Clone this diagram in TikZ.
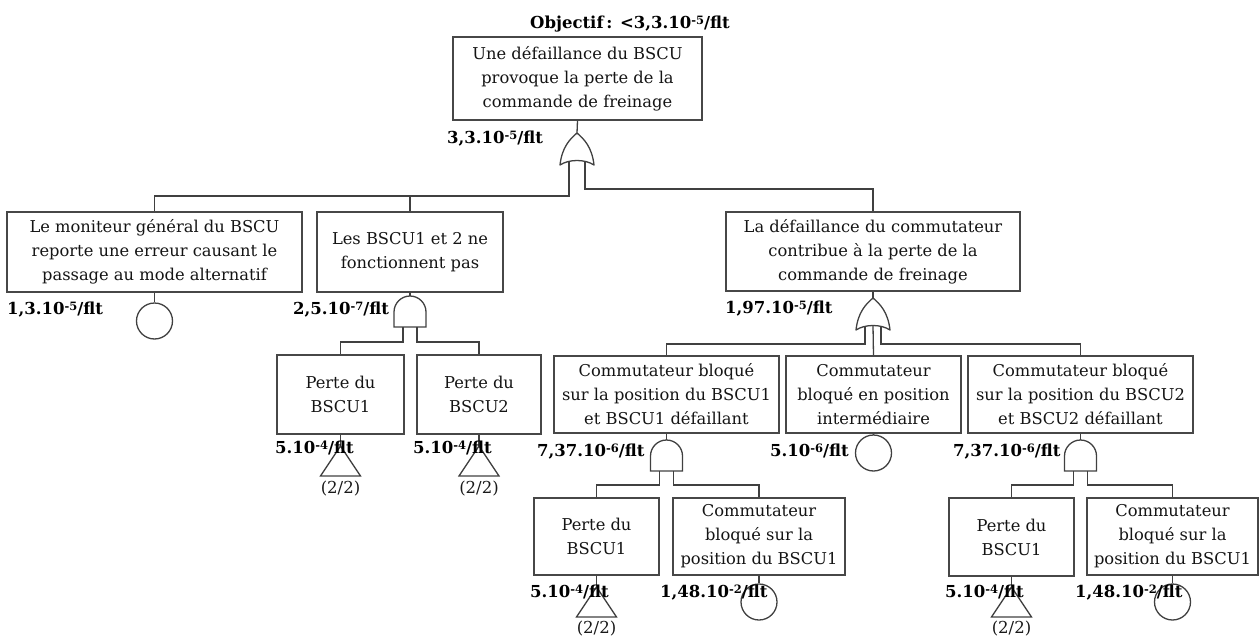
\documentclass[tikz,border=0pt]{standalone}
\usepackage{fontspec}
\setmainfont{DejaVu Serif}
\newcommand\myexp[1]{\raisebox{4pt}{\fontsize{11.5}{12}\selectfont #1}}
\begin{document}
\begin{tikzpicture}[x=1pt,y=-1pt,
  line/.style={draw=black!75, line width=1.3pt},
  box/.style={draw=black!72, line width=1.3pt, inner sep=0pt, align=center,
    font=\fontsize{16.3}{24}\selectfont, text=black!92},
  lbl/.style={inner sep=0pt, anchor=base west,
    font=\fontsize{16.5}{20}\selectfont\bfseries, text=black},
  small/.style={inner sep=0pt, font=\fontsize{16.5}{20}\selectfont, text=black!90},
  leaf/.style={circle, draw=black!75, line width=1.3pt, minimum size=36pt, inner sep=0pt},
  andgate/.pic={
    \draw[line] (-16,31) -- (-16,16) .. controls (-16,7.2) and (-8.8,0) .. (0,0)
      .. controls (8.8,0) and (16,7.2) .. (16,16) -- (16,31) -- cycle;
    \coordinate (-top) at (0,0);
    \coordinate (-l) at (-7,31);
    \coordinate (-r) at (7,31);
  },
  orgate/.pic={
    \draw[line, line join=round] (0,0) .. controls (7,6) and (15,14) .. (17,32)
      .. controls (8,26) and (-8,26) .. (-17,32)
      .. controls (-15,14) and (-7,6) .. (0,0) -- cycle;
    \coordinate (-top) at (0,0);
    \coordinate (-l) at (-8,28.5);
    \coordinate (-c) at (0,27.5);
    \coordinate (-r) at (8,28.5);
  },
  transfer/.pic={
    \draw[line] (0,0) -- (20,30) -- (-20,30) -- cycle;
    \coordinate (-top) at (0,0);
  }
]
\useasboundingbox (0,0) rectangle (1259,637);

% bus lines
\coordinate (bus1) at (0,196);
\coordinate (bus2) at (0,189);
\coordinate (bus3) at (0,342);
\coordinate (bus4) at (0,344);
\coordinate (bus5) at (0,485);

% boxes
\node[box, minimum width=249pt, minimum height=83pt] (top) at (577.5,78.5)
  {Une défaillance du BSCU\\provoque la perte de la\\commande de freinage};
\node[box, minimum width=295pt, minimum height=80pt] (L1) at (154.5,252)
  {Le moniteur général du BSCU\\reporte une erreur causant le\\passage au mode alternatif};
\node[box, minimum width=186pt, minimum height=80pt] (L2) at (410,252)
  {Les BSCU1 et 2 ne\\fonctionnent pas};
\node[box, minimum width=294pt, minimum height=79pt] (L3) at (873,251.5)
  {La défaillance du commutateur\\contribue à la perte de la\\commande de freinage};
\node[box, minimum width=127pt, minimum height=79pt] (P1) at (340.5,394.5)
  {Perte du\\BSCU1};
\node[box, minimum width=124pt, minimum height=79pt] (P2) at (479,394.5)
  {Perte du\\BSCU2};
\node[box, minimum width=225pt, minimum height=77pt] (B1) at (666.5,394.5)
  {Commutateur bloqué\\sur la position du BSCU1\\et BSCU1 défaillant};
\node[box, minimum width=175pt, minimum height=77pt] (B2) at (873.5,394.5)
  {Commutateur\\bloqué en position\\intermédiaire};
\node[box, minimum width=225pt, minimum height=77pt] (B3) at (1080.5,394.5)
  {Commutateur bloqué\\sur la position du BSCU2\\et BSCU2 défaillant};
\node[box, minimum width=125pt, minimum height=77pt] (Q1) at (596.5,536.5)
  {Perte du\\BSCU1};
\node[box, minimum width=172pt, minimum height=77pt] (Q2) at (759,536.5)
  {Commutateur\\bloqué sur la\\position du BSCU1};
\node[box, minimum width=125pt, minimum height=78pt] (Q3) at (1011.5,537)
  {Perte du\\BSCU1};
\node[box, minimum width=171pt, minimum height=77pt] (Q4) at (1172.5,536.5)
  {Commutateur\\bloqué sur la\\position du BSCU1};

% gates
\pic (g1) at (577,133) {orgate};
\pic (g2) at (410,296) {andgate};
\pic (g3) at (873,298) {orgate};
\pic (g4) at (666.5,440) {andgate};
\pic (g5) at (1080.5,440) {andgate};

% basic events
\node[leaf] (c1) at (154.5,321) {};
\node[leaf] (c2) at (873.5,453) {};
\node[leaf] (c3) at (759,602) {};
\node[leaf] (c4) at (1172.5,602) {};

% transfers
\pic (t1) at (340.5,446) {transfer};
\pic (t2) at (479,446) {transfer};
\pic (t3) at (596.5,587) {transfer};
\pic (t4) at (1011.5,587) {transfer};

% connectors
\draw[line] (top.south) -- (g1-top);
\draw[line] (g1-l) |- (L1.north |- bus1) -- (L1.north);
\draw[line] (L2.north) -- (L2.north |- bus1);
\draw[line] (g1-r) |- (L3.north |- bus2) -- (L3.north);
\draw[line] (L1.south) -- (c1.north);
\draw[line] (L2.south) -- (g2-top);
\draw[line] (g2-l) |- (P1.north |- bus3) -- (P1.north);
\draw[line] (g2-r) |- (P2.north |- bus3) -- (P2.north);
\draw[line] (P1.south) -- (t1-top);
\draw[line] (P2.south) -- (t2-top);
\draw[line] (L3.south) -- (g3-top);
\draw[line] (g3-l) |- (B1.north |- bus4) -- (B1.north);
\draw[line] (g3-c) -- (B2.north);
\draw[line] (g3-r) |- (B3.north |- bus4) -- (B3.north);
\draw[line] (B1.south) -- (g4-top);
\draw[line] (B2.south) -- (c2.north);
\draw[line] (B3.south) -- (g5-top);
\draw[line] (g4-l) |- (Q1.north |- bus5) -- (Q1.north);
\draw[line] (g4-r) |- (Q2.north |- bus5) -- (Q2.north);
\draw[line] (g5-l) |- (Q3.north |- bus5) -- (Q3.north);
\draw[line] (g5-r) |- (Q4.north |- bus5) -- (Q4.north);
\draw[line] (Q1.south) -- (t3-top);
\draw[line] (Q2.south) -- (c3.north);
\draw[line] (Q3.south) -- (t4-top);
\draw[line] (Q4.south) -- (c4.north);

% labels
\node[lbl] (obj) at (530,28) {Objectif\,: <3,3.10\myexp{-5}/flt};
\node[lbl] (p0) at (447,143) {3,3.10\myexp{-5}/flt};
\node[lbl] (p1) at (7,314) {1,3.10\myexp{-5}/flt};
\node[lbl] (p2) at (293,314) {2,5.10\myexp{-7}/flt};
\node[lbl] (p3) at (725,313) {1,97.10\myexp{-5}/flt};
\node[lbl] (p4) at (275,453) {5.10\myexp{-4}/flt};
\node[lbl] (p5) at (413,453) {5.10\myexp{-4}/flt};
\node[lbl] (p6) at (537,456) {7,37.10\myexp{-6}/flt};
\node[lbl] (p7) at (770,456) {5.10\myexp{-6}/flt};
\node[lbl] (p8) at (953,456) {7,37.10\myexp{-6}/flt};
\node[lbl] (p9) at (530,597) {5.10\myexp{-4}/flt};
\node[lbl] (p10) at (660,597) {1,48.10\myexp{-2}/flt};
\node[lbl] (p11) at (945,597) {5.10\myexp{-4}/flt};
\node[lbl] (p12) at (1075,597) {1,48.10\myexp{-2}/flt};

\node[small] (r1) at (340.5,489) {(2/2)};
\node[small] (r2) at (479,489) {(2/2)};
\node[small] (r3) at (596.5,629) {(2/2)};
\node[small] (r4) at (1011.5,629) {(2/2)};
\end{tikzpicture}
\end{document}
